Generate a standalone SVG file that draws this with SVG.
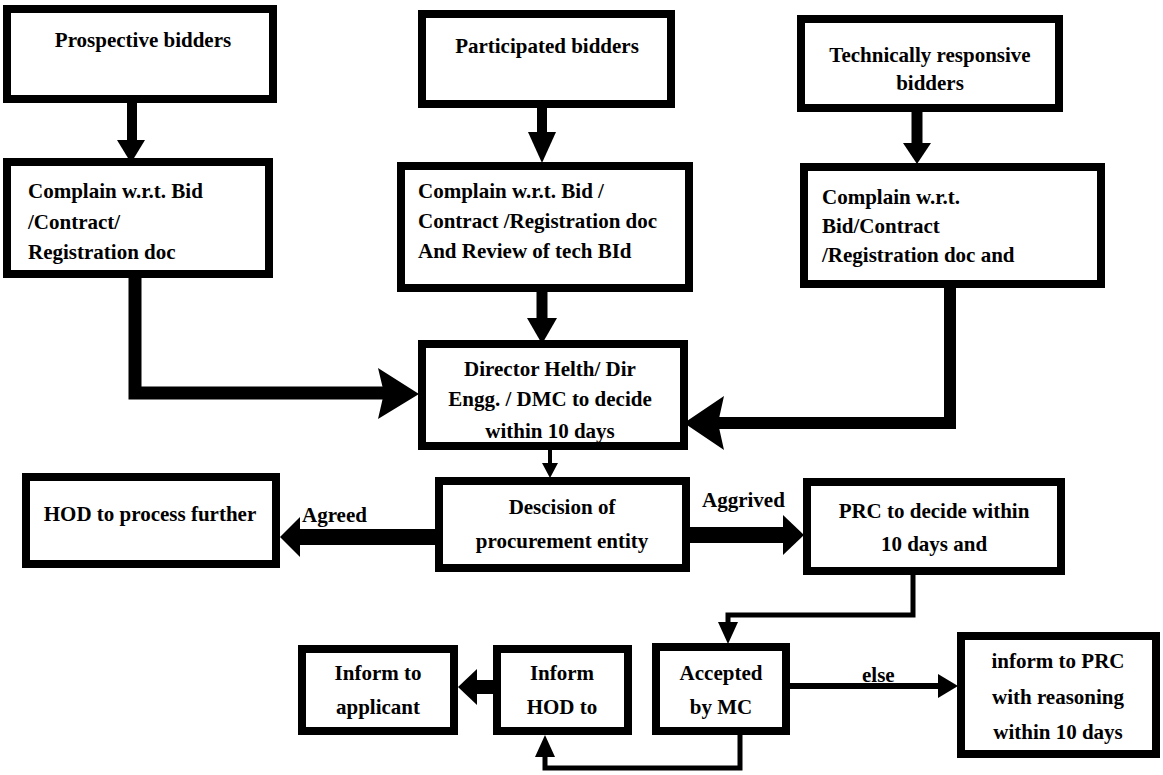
<svg xmlns="http://www.w3.org/2000/svg" width="1163" height="775" viewBox="0 0 1163 775">
<style>
.box{fill:#fff;stroke:#000;stroke-width:8}
.t{font-family:"Liberation Serif",serif;font-weight:bold;font-size:21px;fill:#000}
.c{text-anchor:middle}
.ln{fill:none;stroke:#000;stroke-linejoin:miter}
.hd{fill:#000}
</style>
<rect width="1163" height="775" fill="#fff"/>
<g id="connectors">
<line class="ln" x1="132" y1="103" x2="132" y2="142" stroke-width="10"/>
<polygon class="hd" points="117,140 145,140 131,163"/>
<line class="ln" x1="542" y1="108" x2="542" y2="134" stroke-width="10"/>
<polygon class="hd" points="528,132 556,132 542,163"/>
<line class="ln" x1="917" y1="112" x2="917" y2="145" stroke-width="11"/>
<polygon class="hd" points="903,143 931,143 917,164"/>
<path class="ln" d="M135,278 V393 H385" stroke-width="13"/>
<polygon class="hd" points="378,368 384,393 378,419 419,394"/>
<line class="ln" x1="542" y1="292" x2="542" y2="320" stroke-width="11"/>
<polygon class="hd" points="527,318 557,318 542,344"/>
<path class="ln" d="M950,288 V423 H718" stroke-width="12"/>
<polygon class="hd" points="724,396 718,423 724,450 684,423"/>
<line class="ln" x1="550" y1="450" x2="550" y2="465" stroke-width="4"/>
<polygon class="hd" points="542,463 558,463 550,478"/>
<line class="ln" x1="435" y1="537" x2="296" y2="537" stroke-width="16"/>
<polygon class="hd" points="300,517 300,557 280,537"/>
<line class="ln" x1="690" y1="535" x2="786" y2="535" stroke-width="16"/>
<polygon class="hd" points="783,515 783,555 804,535"/>
<path class="ln" d="M913,575 V615 H728 V625" stroke-width="5"/>
<polygon class="hd" points="718,622 738,622 728,644"/>
<line class="ln" x1="493" y1="687" x2="474" y2="687" stroke-width="14"/>
<polygon class="hd" points="477,669 477,705 458,687"/>
<line class="ln" x1="790" y1="686" x2="940" y2="686" stroke-width="6"/>
<polygon class="hd" points="938,674 938,698 958,686"/>
<path class="ln" d="M740,735 V768 H545 V755" stroke-width="5"/>
<polygon class="hd" points="535,757 555,757 545,735"/>
<text class="t" x="302" y="522">Agreed</text>
<text class="t" x="702" y="507">Aggrived</text>
<text class="t" x="862" y="682">else</text>
</g>
<g id="n-prospective">
<rect class="box" x="7" y="9" width="266" height="90"/>
<text class="t c" x="143" y="47">Prospective bidders</text>
</g>
<g id="n-participated">
<rect class="box" x="422" y="14" width="249" height="90"/>
<text class="t c" x="547" y="53">Participated bidders</text>
</g>
<g id="n-technical">
<rect class="box" x="801" y="19" width="258" height="89"/>
<text class="t c" x="930" y="62">Technically responsive</text>
<text class="t c" x="930" y="90">bidders</text>
</g>
<g id="n-complain1">
<rect class="box" x="7" y="162" width="262" height="112"/>
<text class="t" x="28" y="198">Complain w.r.t. Bid</text>
<text class="t" x="28" y="229">/Contract/</text>
<text class="t" x="28" y="259">Registration doc</text>
</g>
<g id="n-complain2">
<rect class="box" x="401" y="166" width="288" height="122"/>
<text class="t" x="418" y="198">Complain w.r.t. Bid /</text>
<text class="t" x="418" y="228">Contract /Registration doc</text>
<text class="t" x="418" y="258">And Review of tech BId</text>
</g>
<g id="n-complain3">
<rect class="box" x="804" y="167" width="297" height="117"/>
<text class="t" x="822" y="204">Complain w.r.t.</text>
<text class="t" x="822" y="233">Bid/Contract</text>
<text class="t" x="822" y="262"> /Registration doc and</text>
</g>
<g id="n-director">
<rect class="box" x="422" y="344" width="262" height="102"/>
<text class="t c" x="550" y="376">Director Helth/ Dir</text>
<text class="t c" x="550" y="406">Engg. / DMC to decide</text>
<text class="t c" x="550" y="438">within 10 days</text>
</g>
<g id="n-hod">
<rect class="box" x="26" y="477" width="250" height="87"/>
<text class="t c" x="150" y="521">HOD to process further</text>
</g>
<g id="n-decision">
<rect class="box" x="439" y="481" width="247" height="87"/>
<text class="t c" x="562" y="514">Descision of</text>
<text class="t c" x="562" y="548">procurement entity</text>
</g>
<g id="n-prc">
<rect class="box" x="807" y="482" width="254" height="89"/>
<text class="t c" x="934" y="518">PRC to decide within</text>
<text class="t c" x="934" y="551">10 days and</text>
</g>
<g id="n-inform-applicant">
<rect class="box" x="302" y="649" width="152" height="82"/>
<text class="t c" x="378" y="680">Inform to</text>
<text class="t c" x="378" y="714">applicant</text>
</g>
<g id="n-inform-hod">
<rect class="box" x="497" y="649" width="131" height="82"/>
<text class="t c" x="562" y="680">Inform</text>
<text class="t c" x="562" y="714">HOD to</text>
</g>
<g id="n-accepted">
<rect class="box" x="656" y="647" width="130" height="84"/>
<text class="t c" x="721" y="680">Accepted</text>
<text class="t c" x="721" y="714">by MC</text>
</g>
<g id="n-inform-prc">
<rect class="box" x="961" y="636" width="195" height="118"/>
<text class="t c" x="1058" y="668">inform  to PRC</text>
<text class="t c" x="1058" y="704">with reasoning</text>
<text class="t c" x="1058" y="739">within 10 days</text>
</g>
</svg>
